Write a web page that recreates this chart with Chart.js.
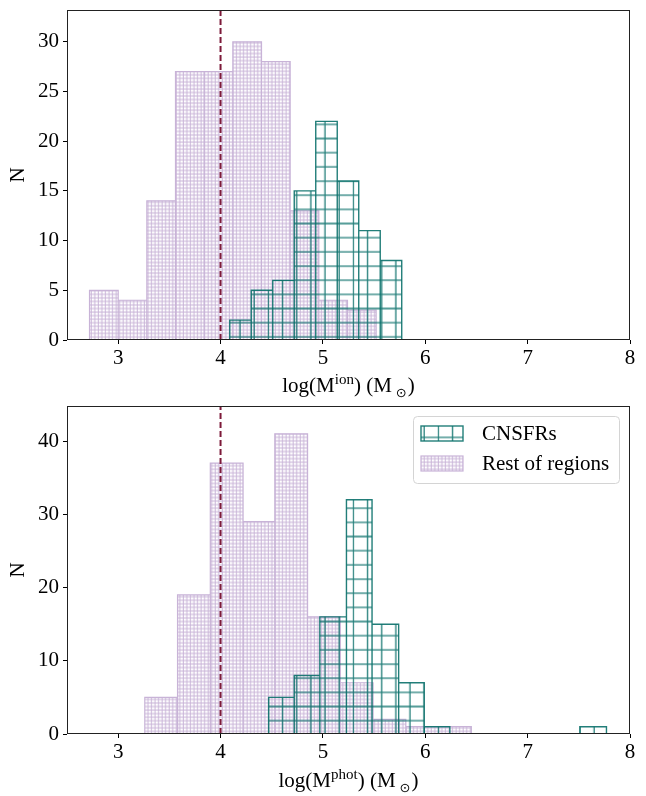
<!DOCTYPE html>
<html>
<head>
<meta charset="utf-8">
<script src="https://cdn.jsdelivr.net/npm/chart.js@4.4.0/dist/chart.umd.min.js"></script>
<style>
  body { margin: 0; background: #fff; }
  #wrap { position: relative; width: 646px; height: 796px; font-family: 'Liberation Serif', 'Times New Roman', serif; }
  canvas { position: absolute; left: 0; }
  .xlab { position: absolute; left: 67px; width: 563px; text-align: center; font-size: 21px; line-height: 24px; color: #000; white-space: nowrap; }
  .xlab .sup { font-size: 15px; position: relative; top: -8px; }
  .xlab .sub { font-size: 13px; position: relative; top: 5px; margin-left: 4px; margin-right: 1px; font-family: 'DejaVu Sans', sans-serif; }
</style>
</head>
<body>
<div id="wrap">
  <canvas id="top" width="646" height="398" style="top:0"></canvas>
  <canvas id="bot" width="646" height="398" style="top:398px"></canvas>
  <div class="xlab" style="top:373px">log(M<span class="sup">ion</span>) (M<span class="sub">⊙</span>)</div>
  <div class="xlab" style="top:768px">log(M<span class="sup">phot</span>) (M<span class="sub">⊙</span>)</div>
</div>
<script>
// axis ticks
const xTicks = [3, 4, 5, 6, 7, 8]
const topYTicks = [0, 5, 10, 15, 20, 25, 30]
const botYTicks = [0, 10, 20, 30, 40]
const threshold = 4

// top panel: log(M_ion)
const topCnsfrEdges = [4.09, 4.30, 4.51, 4.72, 4.93, 5.14, 5.35, 5.56, 5.77]
const topCnsfrCounts = [2, 5, 6, 15, 22, 16, 11, 8]
const topRestEdges = [2.72, 3.00, 3.28, 3.56, 3.84, 4.12, 4.40, 4.68, 4.96, 5.24, 5.52]
const topRestCounts = [5, 4, 14, 27, 27, 30, 28, 13, 4, 3]

// bottom panel: log(M_phot)
const botCnsfrEdges = [4.47, 4.72, 4.97, 5.23, 5.48, 5.74, 5.99, 6.24, 6.50, 6.75, 7.01, 7.26, 7.51, 7.77]
const botCnsfrCounts = [5, 8, 16, 32, 15, 7, 1, 0, 0, 0, 0, 0, 1]
const botRestEdges = [3.26, 3.58, 3.90, 4.22, 4.53, 4.85, 5.17, 5.49, 5.81, 6.13, 6.45]
const botRestCounts = [5, 19, 37, 29, 41, 16, 7, 2, 1, 1]

const cnsfrLabel = 'CNSFRs'
const restLabel = 'Rest of regions'

const FONT = "'Liberation Serif', 'Times New Roman', serif"
const TEAL = 'rgba(10,112,106,0.9)'
const LILAC = '#c8b3d7'

Chart.defaults.font.family = FONT
Chart.defaults.font.size = 21
Chart.defaults.color = '#000'

// each bar as its own rectangle outline, like plt.hist(histtype='bar')
function barOutline(edges, counts) {
  const pts = []
  counts.forEach((c, i) => {
    pts.push({x: edges[i], y: 0}, {x: edges[i], y: c}, {x: edges[i + 1], y: c}, {x: edges[i + 1], y: 0})
  })
  return pts
}

// grid hatch, anchored to the page like matplotlib hatches
function hatch(ctx, n, color, lw) {
  const T = 85
  const c = document.createElement('canvas')
  c.width = c.height = T
  const g = c.getContext('2d')
  g.strokeStyle = color
  g.lineWidth = lw
  g.beginPath()
  for (let i = 0; i < n; i++) {
    const p = i * T / n + 0.5
    g.moveTo(p, 0); g.lineTo(p, T)
    g.moveTo(0, p); g.lineTo(T, p)
  }
  g.stroke()
  const pat = ctx.createPattern(c, 'repeat')
  pat.setTransform(new DOMMatrix([1, 0, 0, 1, 12.8, 10.5]))
  return pat
}

const frame = {
  id: 'frame',
  afterDatasetsDraw(chart) {
    const {ctx, chartArea: a} = chart
    ctx.save()
    ctx.strokeStyle = '#222'
    ctx.lineWidth = 1
    ctx.strokeRect(a.left + 0.5, a.top + 0.5, a.right - a.left - 1, a.bottom - a.top - 1)
    ctx.restore()
  }
}

const legendBox = {
  id: 'legendBox',
  afterDraw(chart) {
    const {ctx, chartArea: a} = chart
    const items = chart.data.datasets.filter(d => d.label)
    const w = 206, h = 67
    const x0 = a.right - 11 - w, y0 = a.top + 10
    ctx.save()
    ctx.beginPath()
    ctx.roundRect(x0 + 0.5, y0 + 0.5, w, h, 4)
    ctx.fillStyle = 'rgba(255,255,255,0.8)'
    ctx.fill()
    ctx.strokeStyle = '#d4d4d4'
    ctx.lineWidth = 1
    ctx.stroke()
    items.forEach((d, i) => {
      const y = y0 + 10 + i * 30
      ctx.fillStyle = d.backgroundColor
      ctx.fillRect(x0 + 8, y, 42, 15)
      ctx.strokeStyle = d.borderColor
      ctx.lineWidth = d.borderWidth
      ctx.strokeRect(x0 + 8, y, 42, 15)
      ctx.fillStyle = '#000'
      ctx.font = '21px ' + FONT
      ctx.textBaseline = 'alphabetic'
      ctx.fillText(d.label, x0 + 69, y + 14)
    })
    ctx.restore()
  }
}

function makeChart(id, cnsfrEdges, cnsfrCounts, restEdges, restCounts, yMax, yTicks, padTop, xHeight, withLegend) {
  const canvas = document.getElementById(id)
  const ctx = canvas.getContext('2d')
  return new Chart(ctx, {
    type: 'line',
    data: {
      datasets: [
        {
          label: cnsfrLabel,
          data: barOutline(cnsfrEdges, cnsfrCounts),
          borderColor: TEAL,
          borderWidth: 1.4,
          backgroundColor: hatch(ctx, 6, TEAL, 1.3),
          fill: 'origin',
          pointRadius: 0,
          tension: 0,
          order: 0
        },
        {
          data: [{x: threshold, y: 0}, {x: threshold, y: yMax}],
          borderColor: '#7d1a3a',
          borderWidth: 2,
          borderDash: [6, 3],
          pointRadius: 0,
          fill: false,
          order: 1
        },
        {
          label: restLabel,
          data: barOutline(restEdges, restCounts),
          borderColor: LILAC,
          borderWidth: 1.2,
          backgroundColor: hatch(ctx, 24, LILAC, 1),
          fill: 'origin',
          pointRadius: 0,
          tension: 0,
          order: 2
        }
      ]
    },
    options: {
      responsive: false,
      animation: false,
      devicePixelRatio: 1,
      layout: {padding: {top: padTop, right: 16, left: 0, bottom: 0}},
      plugins: {legend: {display: false}, tooltip: {enabled: false}},
      scales: {
        x: {
          type: 'linear',
          min: 2.5,
          max: 8,
          afterFit: s => { s.height = xHeight; s.paddingLeft = 0; s.paddingRight = 0 },
          afterBuildTicks: s => { s.ticks = xTicks.map(v => ({value: v})) },
          grid: {drawOnChartArea: false, drawTicks: true, tickLength: 4, color: '#000'},
          border: {display: false},
          ticks: {color: '#000', font: {family: FONT, size: 21}, padding: 2, maxRotation: 0}
        },
        y: {
          min: 0,
          max: yMax,
          afterFit: s => { s.width = 67; s.paddingTop = 0; s.paddingBottom = 0 },
          afterBuildTicks: s => { s.ticks = yTicks.map(v => ({value: v})) },
          grid: {drawOnChartArea: false, drawTicks: true, tickLength: 4, color: '#000'},
          border: {display: false},
          ticks: {color: '#000', font: {family: FONT, size: 21}, padding: 4},
          title: {display: true, text: 'N', color: '#000', font: {family: FONT, size: 21}, padding: {top: 6, bottom: 0}}
        }
      }
    },
    plugins: withLegend ? [frame, legendBox] : [frame]
  })
}

makeChart('top', topCnsfrEdges, topCnsfrCounts, topRestEdges, topRestCounts, 33.2, topYTicks, 10, 58, false)
makeChart('bot', botCnsfrEdges, botCnsfrCounts, botRestEdges, botRestCounts, 44.8, botYTicks, 8, 62, true)
</script>
</body>
</html>
